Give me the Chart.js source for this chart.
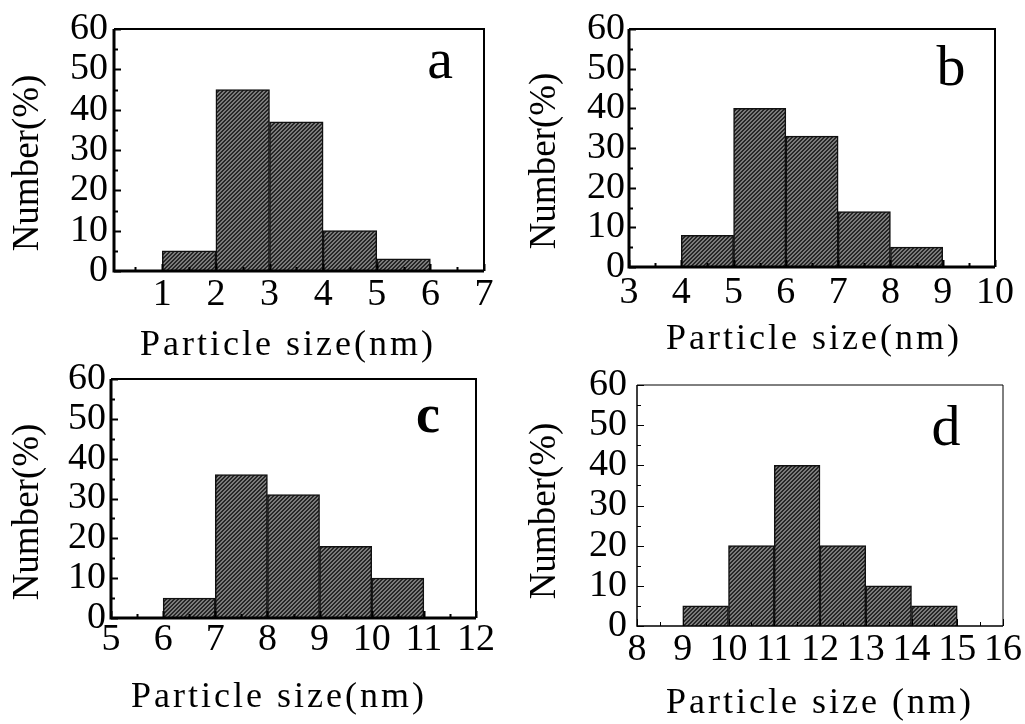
<!DOCTYPE html>
<html>
<head>
<meta charset="utf-8">
<title>Particle size distributions</title>
<script src="https://cdn.jsdelivr.net/npm/chart.js@4/dist/chart.umd.min.js"></script>
<style>
  html, body { margin: 0; padding: 0; background: #fff; }
  body { width: 1025px; height: 724px; position: relative; overflow: hidden; }
  .panel { position: absolute; }
</style>
</head>
<body>
<div class="panel" style="left:0;top:0;width:512px;height:365px"><canvas id="chartA"></canvas></div>
<div class="panel" style="left:512px;top:0;width:513px;height:365px"><canvas id="chartB"></canvas></div>
<div class="panel" style="left:0;top:340px;width:512px;height:384px"><canvas id="chartC"></canvas></div>
<div class="panel" style="left:512px;top:340px;width:513px;height:384px"><canvas id="chartD"></canvas></div>
<script>
// 히스토그램 데이터 (bin 시작값, 비율 %)
const binStartA = [1, 2, 3, 4, 5];
const countA = [5, 45, 37, 10, 3];
const binStartB = [4, 5, 6, 7, 8];
const countB = [8, 40, 33, 14, 5];
const binStartC = [6, 7, 8, 9, 10];
const countC = [5, 36, 31, 18, 10];
const binStartD = [9, 10, 11, 12, 13, 14];
const countD = [5, 20, 40, 20, 10, 5];

// 축 범위
const xRangeA = [0.1, 7];
const xRangeB = [3, 10];
const xRangeC = [5, 12];
const xRangeD = [8, 16];
const yRange = [0, 60];

const Y_TITLE = 'Number(%)';
const SERIF = "'Liberation Serif', 'Times New Roman', serif";
const TICK_SIZE = 38;

// 빗금 패턴 (진한 회색 + 검은 사선)
function makeHatch() {
    const c = document.createElement('canvas');
    c.width = 4;
    c.height = 4;
    const g = c.getContext('2d');
    for (let i = 0; i < 4; i++) {
        for (let j = 0; j < 4; j++) {
            g.fillStyle = (i + j) % 4 < 2 ? '#262626' : '#7a7a7a';
            g.fillRect(i, j, 1, 1);
        }
    }
    return g.createPattern(c, 'repeat');
}
const hatch = makeHatch();

// 안쪽 눈금, 테두리, 축 제목, 패널 문자
const framePlugin = {
    id: 'frame',
    afterDraw(chart, args, opts) {
        const { ctx, chartArea: a, scales: { x, y } } = chart;
        ctx.save();
        ctx.strokeStyle = '#000';
        ctx.lineWidth = opts.tickWidth;
        ctx.beginPath();
        for (let v = y.min; v <= y.max; v += 5) {
            const py = Math.round(y.getPixelForValue(v)) + 0.5;
            const len = v % 10 === 0 ? 7 : 4;
            ctx.moveTo(a.left, py);
            ctx.lineTo(a.left + len, py);
        }
        for (let v = Math.ceil(x.min * 2) / 2; v <= x.max; v += 0.5) {
            const px = Math.round(x.getPixelForValue(v)) + 0.5;
            const len = Number.isInteger(v) ? 7 : 4;
            ctx.moveTo(px, a.bottom);
            ctx.lineTo(px, a.bottom - len);
        }
        ctx.stroke();

        // 테두리: 왼쪽/아래는 굵게
        ctx.lineWidth = opts.edgeWidth;
        ctx.beginPath();
        ctx.moveTo(a.left, a.top);
        ctx.lineTo(a.left, a.bottom);
        ctx.lineTo(a.right, a.bottom);
        ctx.stroke();
        ctx.lineWidth = opts.sideWidth;
        ctx.beginPath();
        ctx.moveTo(a.left, a.top);
        ctx.lineTo(a.right, a.top);
        ctx.lineTo(a.right, a.bottom);
        ctx.stroke();

        ctx.fillStyle = '#000';
        ctx.textAlign = 'center';
        ctx.textBaseline = 'alphabetic';

        ctx.font = '37px ' + SERIF;
        ctx.save();
        ctx.translate(opts.yTitleAt[0], opts.yTitleAt[1]);
        ctx.rotate(-Math.PI / 2);
        ctx.fillText(Y_TITLE, 0, 0);
        ctx.restore();

        ctx.font = '36px ' + SERIF;
        ctx.letterSpacing = '3px';
        ctx.fillText(opts.xTitle, opts.xTitleAt[0], opts.xTitleAt[1]);
        ctx.letterSpacing = '0px';

        ctx.font = opts.letterFont + ' ' + SERIF;
        ctx.fillText(opts.letter, opts.letterAt[0], opts.letterAt[1]);
        ctx.restore();
    }
};

function makePanel(canvasId, binStart, counts, xRange, layout) {
    const ctx = document.getElementById(canvasId).getContext('2d');
    return new Chart(ctx, {
        type: 'bar',
        data: {
            datasets: [{
                data: binStart.map((s, i) => ({ x: s + 0.5, y: counts[i] })),
                backgroundColor: hatch,
                borderColor: '#111',
                borderWidth: 1.5,
                barPercentage: 1,
                categoryPercentage: 1,
            }]
        },
        options: {
            responsive: true,
            maintainAspectRatio: false,
            animation: false,
            events: [],
            layout: { padding: { top: layout.top, right: layout.right, left: 0, bottom: 0 } },
            plugins: {
                legend: { display: false },
                tooltip: { enabled: false },
                frame: layout.frame,
            },
            scales: {
                x: {
                    type: 'linear',
                    min: xRange[0],
                    max: xRange[1],
                    offset: false,
                    grid: { display: false, drawTicks: false },
                    border: { display: false },
                    ticks: {
                        autoSkip: false,
                        maxRotation: 0,
                        padding: layout.xPad,
                        color: '#000',
                        font: { family: SERIF, size: TICK_SIZE, lineHeight: 1.15 },
                    },
                    // 정수 위치에만 눈금 라벨
                    afterBuildTicks: s => {
                        const ticks = [];
                        for (let v = Math.ceil(s.min); v <= s.max; v++) ticks.push({ value: v });
                        s.ticks = ticks;
                    },
                    afterFit: s => { s.height = layout.xAxisH; },
                },
                y: {
                    min: yRange[0],
                    max: yRange[1],
                    grid: { display: false, drawTicks: false },
                    border: { display: false },
                    ticks: {
                        stepSize: 10,
                        autoSkip: false,
                        padding: layout.yPad,
                        color: '#000',
                        font: { family: SERIF, size: TICK_SIZE, lineHeight: 1.15 },
                    },
                    afterFit: s => { s.width = layout.yAxisW; },
                }
            }
        },
        plugins: [framePlugin]
    });
}

makePanel('chartA', binStartA, countA, xRangeA, {
    top: 29, right: 28, xAxisH: 94, yAxisW: 114, xPad: 2, yPad: 6,
    frame: { tickWidth: 2, edgeWidth: 3, sideWidth: 2, xTitle: 'Particle size(nm)',
             yTitleAt: [38, 163], xTitleAt: [288, 355], letter: 'a', letterAt: [440, 78], letterFont: '58px' }
});
makePanel('chartB', binStartB, countB, xRangeB, {
    top: 29, right: 30, xAxisH: 98, yAxisW: 117, xPad: 4, yPad: 4,
    frame: { tickWidth: 2, edgeWidth: 3, sideWidth: 2, xTitle: 'Particle size(nm)',
             yTitleAt: [43, 161], xTitleAt: [302, 349], letter: 'b', letterAt: [439, 85], letterFont: '58px' }
});
makePanel('chartC', binStartC, countC, xRangeC, {
    top: 39, right: 36, xAxisH: 106, yAxisW: 111, xPad: 0, yPad: 5,
    frame: { tickWidth: 2, edgeWidth: 3, sideWidth: 2, xTitle: 'Particle size(nm)',
             yTitleAt: [38, 172], xTitleAt: [279, 367], letter: 'c', letterAt: [428, 92], letterFont: 'bold 54px' }
});
makePanel('chartD', binStartD, countD, xRangeD, {
    top: 45, right: 22, xAxisH: 98, yAxisW: 125, xPad: 2, yPad: 10,
    frame: { tickWidth: 1, edgeWidth: 1.5, sideWidth: 1, xTitle: 'Particle size (nm)',
             yTitleAt: [43, 171], xTitleAt: [308, 373], letter: 'd', letterAt: [434, 105], letterFont: '58px' }
});
</script>
</body>
</html>
